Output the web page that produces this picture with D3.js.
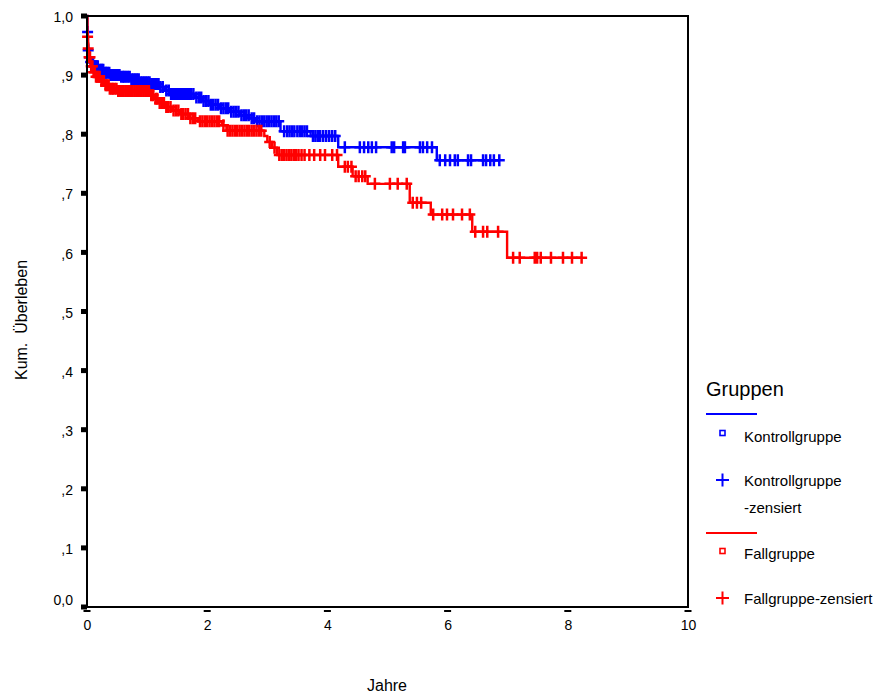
<!DOCTYPE html>
<html>
<head>
<meta charset="utf-8">
<script src="https://cdn.jsdelivr.net/npm/d3@7"></script>
<style>
  html, body { margin: 0; padding: 0; background: #fff; }
  svg { display: block; font-family: "Liberation Sans", Arial, sans-serif; }
</style>
</head>
<body>
<svg id="chart" width="878" height="695"></svg>
<script>
// ---------------- data ----------------
const xTicks = [0, 2, 4, 6, 8, 10];
const xTickLabels = ["0", "2", "4", "6", "8", "10"];
const yTicks = [0, 0.1, 0.2, 0.3, 0.4, 0.5, 0.6, 0.7, 0.8, 0.9, 1.0];
const yTickLabels = ["0,0", ",1", ",2", ",3", ",4", ",5", ",6", ",7", ",8", ",9", "1,0"];

// Kontrollgruppe: event times (years) and survival after each event
const kontrollEventTimes = [0.005, 0.015, 0.03, 0.06, 0.12, 0.2, 0.28, 0.38, 0.55, 0.72, 0.88, 1.05, 1.2, 1.3, 1.38, 1.8, 1.92, 2.05, 2.2, 2.38, 2.55, 2.7, 2.8, 3.22, 3.72, 4.18, 5.82];
const kontrollSurvival   = [0.973, 0.942, 0.93, 0.922, 0.915, 0.909, 0.904, 0.900, 0.897, 0.893, 0.888, 0.885, 0.880, 0.874, 0.868, 0.862, 0.856, 0.850, 0.844, 0.838, 0.832, 0.827, 0.822, 0.805, 0.797, 0.778, 0.756];
const kontrollCensored   = [0.01, 0.02, 0.04, 0.06, 0.08, 0.1, 0.12, 0.14, 0.16, 0.18, 0.21, 0.23, 0.25, 0.27, 0.3, 0.32, 0.34, 0.37, 0.39, 0.42, 0.44, 0.47, 0.49, 0.52, 0.54, 0.57, 0.6, 0.62, 0.65, 0.68, 0.71, 0.74, 0.77, 0.8, 0.83, 0.86, 0.89, 0.92, 0.95, 0.98, 1.01, 1.04, 1.07, 1.1, 1.13, 1.16, 1.19, 1.22, 1.26, 1.32, 1.36, 1.4, 1.43, 1.46, 1.5, 1.53, 1.56, 1.6, 1.63, 1.66, 1.7, 1.73, 1.77, 1.82, 1.86, 1.9, 1.94, 1.98, 2.02, 2.06, 2.1, 2.14, 2.18, 2.23, 2.27, 2.31, 2.35, 2.4, 2.44, 2.48, 2.52, 2.57, 2.61, 2.65, 2.69, 2.74, 2.78, 2.83, 2.87, 2.91, 2.95, 2.99, 3.03, 3.07, 3.11, 3.15, 3.19, 3.28, 3.33, 3.37, 3.41, 3.45, 3.5, 3.54, 3.58, 3.62, 3.66, 3.76, 3.8, 3.84, 3.88, 3.93, 3.98, 4.03, 4.08, 4.13, 4.29, 4.54, 4.61, 4.68, 4.74, 4.81, 5.07, 5.11, 5.26, 5.29, 5.54, 5.59, 5.66, 5.74, 5.87, 5.96, 6.04, 6.12, 6.17, 6.34, 6.39, 6.59, 6.64, 6.71, 6.77, 6.86];

// Fallgruppe
const fallEventTimes = [0.008, 0.018, 0.03, 0.06, 0.1, 0.15, 0.22, 0.3, 0.38, 0.5, 1.05, 1.12, 1.2, 1.3, 1.42, 1.55, 1.7, 1.85, 2.25, 2.32, 2.95, 3.0, 3.08, 3.16, 4.18, 4.42, 4.67, 5.37, 5.72, 6.41, 6.99];
const fallSurvival   = [0.965, 0.945, 0.93, 0.915, 0.905, 0.897, 0.89, 0.883, 0.877, 0.873, 0.866, 0.86, 0.853, 0.846, 0.84, 0.834, 0.827, 0.822, 0.815, 0.806, 0.797, 0.787, 0.777, 0.765, 0.745, 0.729, 0.716, 0.684, 0.664, 0.635, 0.591];
const fallCensored   = [0.01, 0.02, 0.035, 0.05, 0.07, 0.09, 0.11, 0.13, 0.15, 0.17, 0.19, 0.21, 0.24, 0.26, 0.28, 0.31, 0.33, 0.36, 0.38, 0.41, 0.43, 0.46, 0.49, 0.52, 0.55, 0.58, 0.61, 0.64, 0.67, 0.7, 0.73, 0.76, 0.79, 0.82, 0.85, 0.88, 0.91, 0.94, 0.97, 1.0, 1.03, 1.07, 1.1, 1.14, 1.17, 1.21, 1.25, 1.28, 1.32, 1.35, 1.39, 1.44, 1.48, 1.52, 1.57, 1.6, 1.64, 1.68, 1.72, 1.76, 1.8, 1.88, 1.92, 1.96, 2.0, 2.04, 2.08, 2.12, 2.16, 2.2, 2.27, 2.34, 2.38, 2.42, 2.46, 2.5, 2.54, 2.58, 2.62, 2.66, 2.7, 2.74, 2.78, 2.82, 2.86, 2.9, 3.04, 3.12, 3.2, 3.24, 3.28, 3.32, 3.36, 3.4, 3.44, 3.48, 3.52, 3.57, 3.62, 3.7, 3.78, 3.88, 3.96, 4.08, 4.16, 4.29, 4.34, 4.4, 4.47, 4.52, 4.58, 4.63, 4.79, 5.04, 5.17, 5.32, 5.42, 5.49, 5.56, 5.76, 5.91, 5.99, 6.09, 6.24, 6.37, 6.46, 6.59, 6.66, 6.84, 7.09, 7.2, 7.45, 7.49, 7.55, 7.72, 7.92, 8.07, 8.23];

const groups = [
  { name: "Kontrollgruppe", color: "#0000ff", times: kontrollEventTimes, surv: kontrollSurvival, cens: kontrollCensored },
  { name: "Fallgruppe",     color: "#ff0000", times: fallEventTimes,     surv: fallSurvival,     cens: fallCensored }
];

// ---------------- drawing ----------------
const svg = d3.select("#chart");
const x = d3.scaleLinear().domain([0, 10]).range([87, 688]);
const y = d3.scaleLinear().domain([0, 1]).range([607, 16]);
const font = '"Liberation Sans", Arial, sans-serif';

function survAt(g, t) {
  let s = 1;
  for (let i = 0; i < g.times.length; i++) { if (g.times[i] <= t) s = g.surv[i]; else break; }
  return s;
}

// curves
const line = d3.line().x(d => x(d[0])).y(d => y(d[1])).curve(d3.curveStepAfter);
groups.forEach(g => {
  const end = d3.max(g.cens);
  const pts = [[0, 1]].concat(g.times.map((t, i) => [t, g.surv[i]]));
  pts.push([end, g.surv[g.surv.length - 1]]);
  const layer = svg.append("g");
  layer.append("path").attr("d", line(pts)).attr("fill", "none")
    .attr("stroke", g.color).attr("stroke-width", 2.4);
  layer.selectAll("path.c").data(g.cens).enter().append("path")
    .attr("class", "c")
    .attr("d", t => {
      const cx = x(t), cy = y(survAt(g, t));
      return `M${cx - 5.5},${cy}H${cx + 5.5}M${cx},${cy - 6}V${cy + 6}`;
    })
    .attr("stroke", g.color).attr("stroke-width", 2.5).attr("fill", "none");
});

// frame
svg.append("rect").attr("x", x(0)).attr("y", y(1)).attr("width", x(10) - x(0)).attr("height", y(0) - y(1))
  .attr("fill", "none").attr("stroke", "#000").attr("stroke-width", 2);

// y axis labels
const yAxis = d3.axisLeft(y).tickValues(yTicks).tickSize(0).tickPadding(14)
  .tickFormat((d, i) => yTickLabels[i]);
const gy = svg.append("g").attr("transform", `translate(${x(0)},0)`).call(yAxis);
gy.select(".domain").remove();
gy.selectAll("text").attr("font-size", 14).attr("font-family", font).attr("fill", "#000")
  .attr("dy", (d) => d === 0 ? "-0.2em" : "0.4em");
// y tick marks (small squares)
svg.append("g").selectAll("rect").data(yTicks).enter().append("rect")
  .attr("x", x(0) - 6).attr("y", d => y(d) - 2.5).attr("width", 6).attr("height", 5).attr("fill", "#000");

// x axis labels
const xAxis = d3.axisBottom(x).tickValues(xTicks).tickSize(0).tickPadding(13)
  .tickFormat((d, i) => xTickLabels[i]);
const gx = svg.append("g").attr("transform", `translate(0,${y(0)})`).call(xAxis);
gx.select(".domain").remove();
gx.selectAll("text").attr("font-size", 14).attr("font-family", font).attr("fill", "#000");
svg.append("g").selectAll("rect").data(xTicks).enter().append("rect")
  .attr("x", d => x(d) - 3.5).attr("y", y(0) + 3).attr("width", 7).attr("height", 2).attr("fill", "#000");

// axis titles
svg.append("text").attr("x", 387).attr("y", 691).attr("text-anchor", "middle")
  .attr("font-size", 16).attr("font-family", font).text("Jahre");
svg.append("text").attr("transform", "translate(27,320) rotate(-90)").attr("text-anchor", "middle")
  .attr("font-size", 16).attr("font-family", font).attr("xml:space", "preserve").text("Kum.  Überleben");

// legend
const lg = svg.append("g").attr("font-family", font);
lg.append("text").attr("x", 706).attr("y", 396).attr("font-size", 20).text("Gruppen");
const legendRows = [
  { color: "#0000ff", lineY: 414, sqY: 433, t1: "Kontrollgruppe", t1y: 442, crY: 480, t2: ["Kontrollgruppe", "-zensiert"], t2y: [486, 513] },
  { color: "#ff0000", lineY: 533, sqY: 551, t1: "Fallgruppe", t1y: 559, crY: 598, t2: ["Fallgruppe-zensiert"], t2y: [604] }
];
legendRows.forEach(r => {
  lg.append("line").attr("x1", 706).attr("x2", 757).attr("y1", r.lineY).attr("y2", r.lineY)
    .attr("stroke", r.color).attr("stroke-width", 2);
  lg.append("rect").attr("x", 720).attr("y", r.sqY - 2.5).attr("width", 5).attr("height", 5)
    .attr("fill", "#fff").attr("stroke", r.color).attr("stroke-width", 1.6);
  lg.append("text").attr("x", 744).attr("y", r.t1y).attr("font-size", 15).text(r.t1);
  lg.append("path").attr("d", `M${716},${r.crY}H${729}M${722.5},${r.crY - 6.5}V${r.crY + 6.5}`)
    .attr("stroke", r.color).attr("stroke-width", 2);
  r.t2.forEach((t, i) => lg.append("text").attr("x", 744).attr("y", r.t2y[i]).attr("font-size", 15).text(t));
});
</script>
</body>
</html>
